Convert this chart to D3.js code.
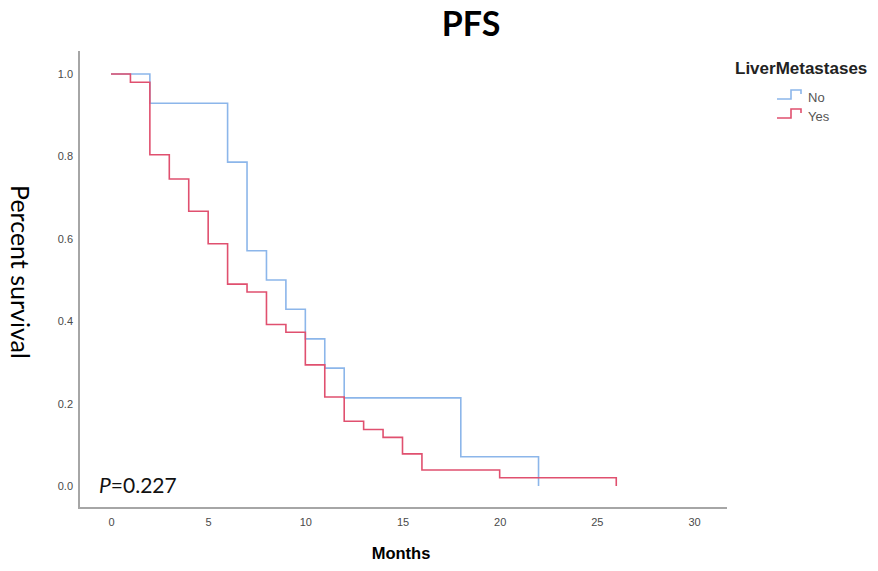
<!DOCTYPE html>
<html>
<head>
<meta charset="utf-8">
<script src="https://cdn.jsdelivr.net/npm/d3@7"></script>
<style>
  body { margin: 0; background: #fff; }
  svg { display: block; }
</style>
</head>
<body>
<div id="chart"></div>
<script>
// survival data
const groups = ['No', 'Yes'];
const noMonths = [0, 2, 6, 7, 8, 9, 10, 11, 12, 18, 22];
const noSurvival = [1, 0.929, 0.786, 0.571, 0.5, 0.429, 0.357, 0.286, 0.214, 0.071, 0];
const yesMonths = [0, 1, 2, 3, 4, 5, 6, 7, 8, 9, 10, 11, 12, 13, 14, 15, 16, 20, 26];
const yesSurvival = [1, 0.980, 0.804, 0.745, 0.667, 0.588, 0.490, 0.471, 0.392, 0.373, 0.294, 0.216, 0.157, 0.137, 0.118, 0.078, 0.039, 0.020, 0];
const xTicks = [0, 5, 10, 15, 20, 25, 30];
const yTicks = [0, 0.2, 0.4, 0.6, 0.8, 1.0];
const colors = { No: '#8cb6ea', Yes: '#e0506f' };

const width = 878, height = 571;

const svg = d3.select('#chart').append('svg')
  .attr('width', width)
  .attr('height', height);

const x = d3.scaleLinear().domain([0, 30]).range([111, 694]);
const y = d3.scaleLinear().domain([0, 1]).range([486, 74]);

// axis frame (left + bottom)
svg.append('line')
  .attr('x1', 79).attr('x2', 79).attr('y1', 51).attr('y2', 509)
  .attr('stroke', '#a6a6a6').attr('stroke-width', 2);
svg.append('line')
  .attr('x1', 78).attr('x2', 727).attr('y1', 508).attr('y2', 508)
  .attr('stroke', '#a6a6a6').attr('stroke-width', 2);

// tick labels (no tick marks)
const yAxis = svg.append('g')
  .attr('transform', 'translate(73,0)')
  .call(d3.axisLeft(y).tickValues(yTicks).tickSize(0).tickPadding(0).tickFormat(d3.format('.1f')));
const xAxis = svg.append('g')
  .attr('transform', 'translate(0,508)')
  .call(d3.axisBottom(x).tickValues(xTicks).tickSize(0).tickPadding(10).tickFormat(d3.format('d')));
[yAxis, xAxis].forEach(g => {
  g.select('.domain').remove();
  g.selectAll('text')
    .attr('font-family', 'Arial, "Liberation Sans", sans-serif')
    .attr('font-size', 11)
    .attr('fill', '#4a4a4a');
});

// step curves
const line = d3.line()
  .x(d => x(d[0]))
  .y(d => y(d[1]))
  .curve(d3.curveStepAfter);

const series = [
  { key: 'No', pts: d3.zip(noMonths, noSurvival) },
  { key: 'Yes', pts: d3.zip(yesMonths, yesSurvival) },
];

svg.selectAll('path.km')
  .data(series)
  .enter()
  .append('path')
  .attr('class', 'km')
  .attr('d', d => line(d.pts))
  .attr('fill', 'none')
  .attr('stroke', d => colors[d.key])
  .attr('stroke-width', 1.6);

// titles
svg.append('text')
  .attr('x', 471).attr('y', 36)
  .attr('text-anchor', 'middle')
  .attr('font-family', 'Lato, "Open Sans", sans-serif')
  .attr('font-weight', 'bold')
  .attr('font-size', 34)
  .text('PFS');

svg.append('text')
  .attr('transform', 'translate(11,272) rotate(90)')
  .attr('text-anchor', 'middle')
  .attr('font-family', 'Lato, "Open Sans", sans-serif')
  .attr('font-size', 25)
  .text('Percent survival');

svg.append('text')
  .attr('x', 401).attr('y', 559)
  .attr('text-anchor', 'middle')
  .attr('font-family', 'Arial, "Liberation Sans", sans-serif')
  .attr('font-weight', 'bold')
  .attr('font-size', 16.5)
  .text('Months');

const pText = svg.append('text')
  .attr('x', 99).attr('y', 493)
  .attr('font-family', 'Lato, "Open Sans", sans-serif')
  .attr('font-size', 21)
  .attr('fill', '#111');
pText.append('tspan').attr('font-style', 'italic').text('P');
pText.append('tspan').text('=0.227');

// legend
svg.append('text')
  .attr('x', 735).attr('y', 74)
  .attr('font-family', 'Arial, "Liberation Sans", sans-serif')
  .attr('font-weight', 'bold')
  .attr('font-size', 17)
  .attr('fill', '#222')
  .text('LiverMetastases');

const legend = svg.selectAll('g.leg')
  .data(groups)
  .enter()
  .append('g')
  .attr('class', 'leg')
  .attr('transform', (d, i) => `translate(777,${97 + i * 19})`);

legend.append('path')
  .attr('d', 'M0,2H14V-7H24V-3')
  .attr('fill', 'none')
  .attr('stroke', d => colors[d])
  .attr('stroke-width', 1.6);

legend.append('text')
  .attr('x', 31).attr('y', 0)
  .attr('dy', '0.35em')
  .attr('font-family', 'Arial, "Liberation Sans", sans-serif')
  .attr('font-size', 13)
  .attr('fill', '#555')
  .text(d => d);
</script>
</body>
</html>
